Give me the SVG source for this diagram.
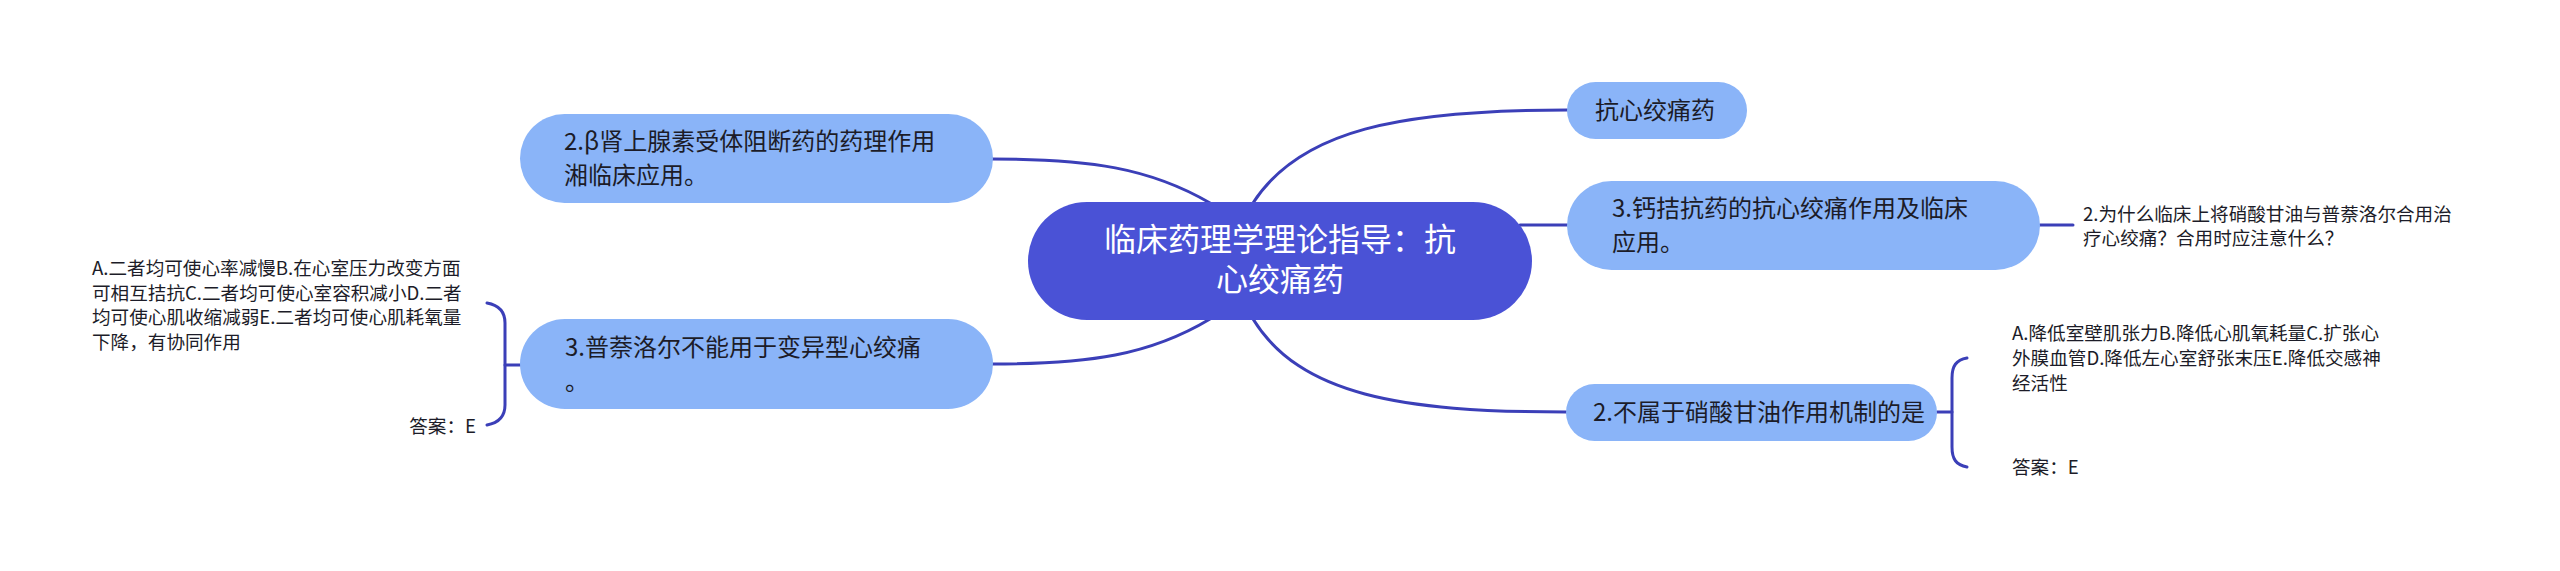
<svg xmlns="http://www.w3.org/2000/svg" width="2560" height="571" viewBox="0 0 2560 571">
<style>
.conn{fill:none;stroke:#3b3fb8;stroke-width:3;stroke-linecap:round}
.sub{fill:#8ab4f8}
.root{fill:#4a52d6}
text{font-family:"Microsoft YaHei","Noto Sans CJK SC","Noto Sans",sans-serif}
.rt{fill:#ffffff;font-size:32px}
.st{fill:#1c1c28;font-size:24px}
.lt{fill:#1c1c28;font-size:18.6px}
</style>
<rect width="2560" height="571" fill="#ffffff"/>
<g id="connectors">
<path class="conn" d="M1210 203 C1150 168 1090 159 992 159"/>
<path class="conn" d="M1253 203 C1300 130 1400 110 1567 110"/>
<path class="conn" d="M1520 225 L1567 225"/>
<path class="conn" d="M1210 319 C1150 355 1090 364 992 364"/>
<path class="conn" d="M1253 319 C1300 395 1400 412 1566 412"/>
<path class="conn" d="M2040 225 L2073 225"/>
<path class="conn" d="M1937 412 L1952 412"/>
<path class="conn" d="M1967 358 C1956 360 1952 366 1952 378 L1952 447 C1952 459 1956 465 1967 467"/>
<path class="conn" d="M505 365 L520 365"/>
<path class="conn" d="M487 303 C498 305 505 311 505 323 L505 405 C505 417 498 423 487 425"/>
</g>
<g id="root">
<rect class="root" x="1028" y="202" width="504" height="118" rx="59"/>
<text class="rt" x="1280" y="251" text-anchor="middle">临床药理学理论指导：抗</text>
<text class="rt" x="1280" y="291" text-anchor="middle">心绞痛药</text>
</g>
<g id="node-beta">
<rect class="sub" x="520" y="114" width="473" height="89" rx="44.5"/>
<text class="st" x="564" y="150">2.β肾上腺素受体阻断药的药理作用</text>
<text class="st" x="564" y="184">湘临床应用。</text>
</g>
<g id="node-pu">
<rect class="sub" x="520" y="319" width="473" height="90" rx="45"/>
<text class="st" x="565" y="356">3.普萘洛尔不能用于变异型心绞痛</text>
<text class="st" x="565" y="390">。</text>
</g>
<g id="node-pu-options">
<text class="lt" x="92" y="275">A.二者均可使心率减慢B.在心室压力改变方面</text>
<text class="lt" x="92" y="300">可相互拮抗C.二者均可使心室容积减小D.二者</text>
<text class="lt" x="92" y="324">均可使心肌收缩减弱E.二者均可使心肌耗氧量</text>
<text class="lt" x="92" y="349">下降，有协同作用</text>
</g>
<g id="node-pu-answer">
<text class="lt" x="476" y="433" text-anchor="end">答案：E</text>
</g>
<g id="node-kang">
<rect class="sub" x="1567" y="82" width="180" height="57" rx="28.5"/>
<text class="st" x="1595" y="119">抗心绞痛药</text>
</g>
<g id="node-gai">
<rect class="sub" x="1567" y="181" width="473" height="89" rx="44.5"/>
<text class="st" x="1612" y="217">3.钙拮抗药的抗心绞痛作用及临床</text>
<text class="st" x="1612" y="251">应用。</text>
</g>
<g id="node-gai-q">
<text class="lt" x="2083" y="221">2.为什么临床上将硝酸甘油与普萘洛尔合用治</text>
<text class="lt" x="2083" y="245">疗心绞痛？合用时应注意什么？</text>
</g>
<g id="node-xiao">
<rect class="sub" x="1566" y="384" width="371" height="57" rx="28.5"/>
<text class="st" x="1593" y="421">2.不属于硝酸甘油作用机制的是</text>
</g>
<g id="node-xiao-options">
<text class="lt" x="2012" y="340">A.降低室壁肌张力B.降低心肌氧耗量C.扩张心</text>
<text class="lt" x="2012" y="365">外膜血管D.降低左心室舒张末压E.降低交感神</text>
<text class="lt" x="2012" y="390">经活性</text>
</g>
<g id="node-xiao-answer">
<text class="lt" x="2012" y="474">答案：E</text>
</g>
</svg>
